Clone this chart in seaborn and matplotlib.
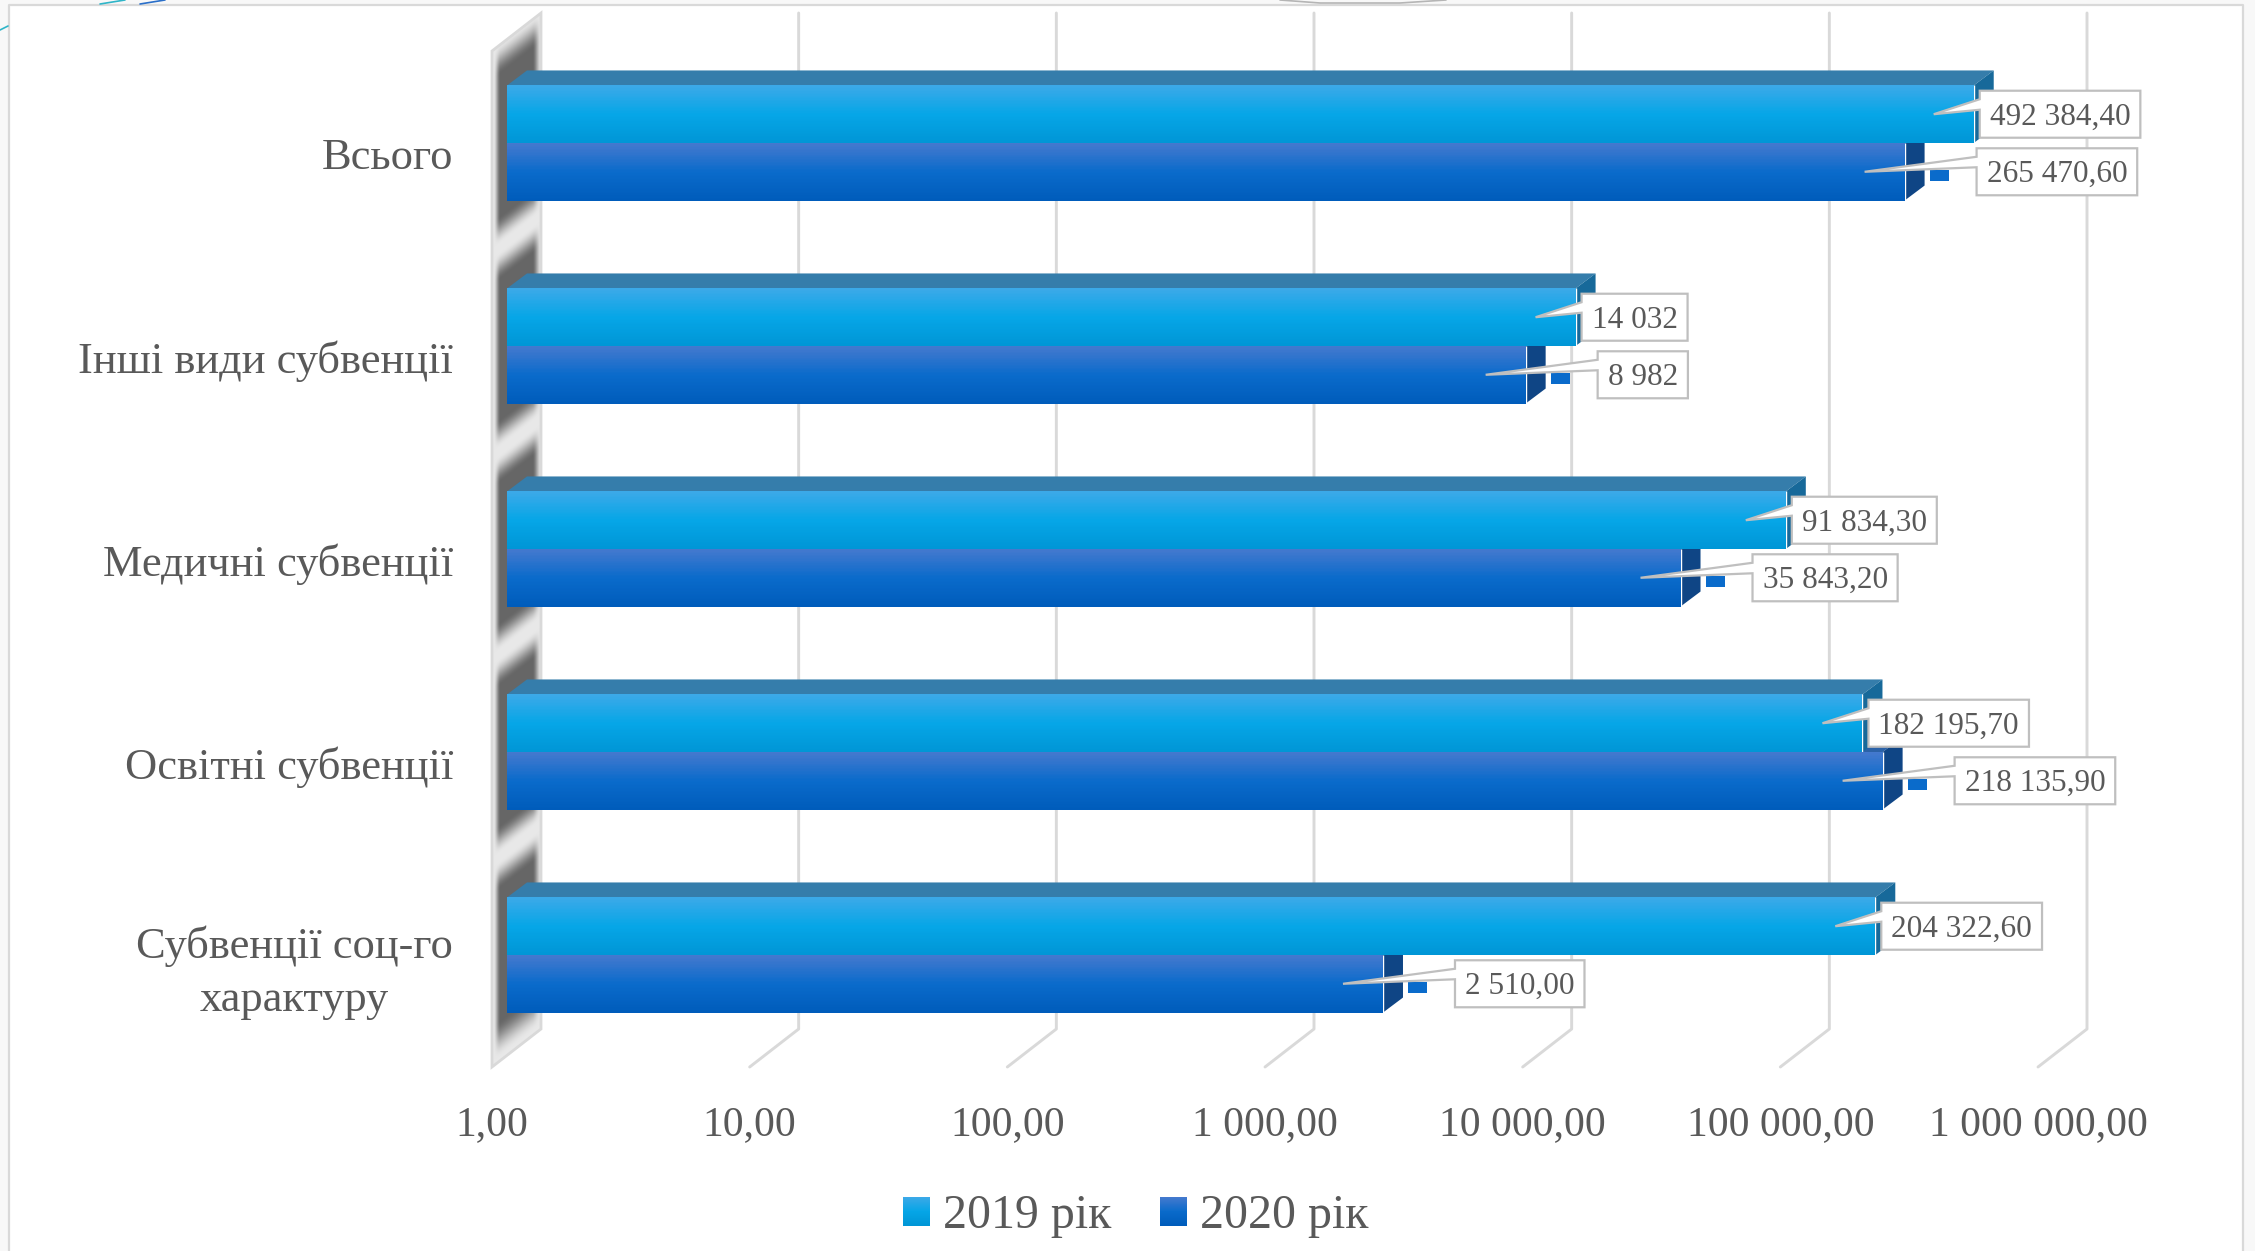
import numpy as np
import pandas as pd
import seaborn as sns
import matplotlib.pyplot as plt
from matplotlib.colors import LinearSegmentedColormap
from matplotlib.lines import Line2D
from matplotlib.patches import Polygon
from matplotlib.ticker import FuncFormatter
from matplotlib.transforms import IdentityTransform, ScaledTranslation

# Data
categories = ['Всього', 'Інші види субвенції', 'Медичні субвенції', 'Освітні субвенції',
              'Субвенції соц-го\nхарактуру']
values_2019 = [492384.40, 14032, 91834.30, 182195.70, 204322.60]
values_2020 = [265470.60, 8982, 35843.20, 218135.90, 2510.00]
labels_2019 = ['492 384,40', '14 032', '91 834,30', '182 195,70', '204 322,60']
labels_2020 = ['265 470,60', '8 982', '35 843,20', '218 135,90', '2 510,00']
years = ['2019 рік', '2020 рік']
xtick_values = [1, 10, 100, 1000, 10000, 100000, 1000000]

# Style
W, H = 2255, 1251
TEXT = '#595959'
GRID = '#d9d9d9'
BOX_EDGE = '#bfbfbf'
DX, DY = 20, 15          # depth of a bar
GRID_FRONT, GRID_BACK = -15, 34   # grid planes relative to the bar plane
FLOOR_FRONT, FLOOR_BACK = 1067, 1029
WALL_TOP = 13
grad_2019 = LinearSegmentedColormap.from_list('g19', ['#3BA9E8', '#06A6E7', '#0096D6'])
grad_2020 = LinearSegmentedColormap.from_list('g20', ['#4479CE', '#0A6BCB', '#005CBB'])

sns.set_style('white')
plt.rcParams['font.family'] = ['Liberation Serif', 'DejaVu Serif']

fig = plt.figure(figsize=(W / 100, H / 100), dpi=100, facecolor='white')
ax = fig.add_axes([507 / W, 1 - FLOOR_FRONT / H, 1546 / W, (FLOOR_FRONT - WALL_TOP) / H])
ax.patch.set_visible(False)

df = pd.DataFrame({
    'category': categories * 2,
    'value': values_2019 + values_2020,
    'year': [years[0]] * 5 + [years[1]] * 5,
})
sns.barplot(data=df, x='value', y='category', hue='year', orient='h', log_scale=True,
            width=0.567, gap=0, palette=['#06A6E7', '#0A6BCB'], ax=ax)

ax.set_xlim(1, 1e6)
ax.set_ylim((FLOOR_FRONT - 143) / 203, (WALL_TOP - 143) / 203)
ax.set_xlabel('')
ax.set_ylabel('')
sns.despine(ax=ax, left=True, bottom=True)

# Axis labels
ax.set_xticks(xtick_values)
ax.minorticks_off()
ax.xaxis.set_major_formatter(FuncFormatter(lambda v, pos: f'{v:,.2f}'.replace(',', ' ').replace('.', ',')))
ax.tick_params(axis='x', length=0, pad=28, labelsize=30, labelcolor=TEXT)
ax.tick_params(axis='y', length=0, pad=39, labelsize=32, labelcolor=TEXT)
x_shift = ScaledTranslation(GRID_FRONT / 100, 0, fig.dpi_scale_trans)
for lab in ax.get_xticklabels():
    lab.set_transform(lab.get_transform() + x_shift)
for lab in ax.get_yticklabels():
    # two-line label sits a little higher and has wider line spacing
    two_lines = '\n' in lab.get_text()
    y_shift = ScaledTranslation(0, -(7 if two_lines else 11) / 100, fig.dpi_scale_trans)
    lab.set_transform(lab.get_transform() + y_shift)
    lab.set_multialignment('center')
    if two_lines:
        lab.set_linespacing(1.4)

pix = IdentityTransform()


def down(y):
    return H - y


# Background: faint margin, shaded back wall
yy, xx = np.mgrid[0:H, 0:W]
bg = np.ones((H, W, 4))
outside = (xx < 8) | (xx > 2243) | (yy < 4)
bg[outside, :3] = 0.975

u = yy + (xx - 492) * 38 / 49
centers = [ax.transData.transform((1, i))[1] for i in range(len(categories))]
gaps = [down(c) + 110 for c in centers[:-1]]
smooth = lambda v, a, b: np.clip((v - a) / (b - a), 0, 1) ** 2 * (3 - 2 * np.clip((v - a) / (b - a), 0, 1))
dark = smooth(xx, 493, 500) * (1 - smooth(xx, 532, 541))
dark = dark * smooth(u, 48, 80) * (1 - smooth(u, 1025, 1062))
for g in gaps:
    dark = dark * smooth(np.abs(u - g), 4, 32)
wall = (xx >= 492) & (xx <= 541) & (u >= 51) & (u <= 1067)
shade = 0.91 - dark * (0.91 - 0.40)
bg[wall, 0] = shade[wall]
bg[wall, 1] = shade[wall]
bg[wall, 2] = shade[wall]
fig.figimage(bg, 0, 0, origin='upper', zorder=-5, resize=False)

# Wall outline and gridlines
wall_pts = [(492, down(51)), (541, down(WALL_TOP)), (541, down(FLOOR_BACK)), (492, down(FLOOR_FRONT))]
ax.add_patch(Polygon(wall_pts, closed=True, fill=False, ec=GRID, lw=2, transform=pix, clip_on=False, zorder=0.5))
for v in xtick_values[1:]:
    x_px = ax.transData.transform((v, 0))[0]
    ax.add_line(Line2D([x_px + GRID_FRONT, x_px + GRID_BACK, x_px + GRID_BACK],
                       [down(FLOOR_FRONT), down(FLOOR_BACK), down(WALL_TOP)],
                       color=GRID, lw=2.1, transform=pix, clip_on=False, zorder=0.5))

# Frame of the slide and its leftovers
ax.add_line(Line2D([9, 9, 2243, 2243], [0, down(5), down(5), 0], color=GRID, lw=1.6, transform=pix, clip_on=False, zorder=0.4))
for xs, ys, c in [([100, 125], [4, 0], '#2fb5c8'), ([140, 165], [4, 0], '#2a6fc9'), ([0, 8], [30, 26], '#2fb5c8'),
                  ([1280, 1320, 1400, 1446], [0, 3, 3, 0], '#b5b5b5')]:
    ax.add_line(Line2D(xs, [down(y) for y in ys], color=c, lw=1.2, transform=pix, clip_on=False, zorder=0.4))


def draw_bar(bar, cmap, top_col, side_col, z_back, z_front):
    # front face gradient over the seaborn bar, depth faces in pixels behind it
    left, right = bar.get_x(), bar.get_x() + bar.get_width()
    y0, y1 = bar.get_y(), bar.get_y() + bar.get_height()
    x0_px, y_top = ax.transData.transform((max(left, 1), y0))
    x1_px, y_bot = ax.transData.transform((right, y1))
    bar.set_zorder(z_front)
    ys = np.linspace(y0, y1, 41)
    grad = np.linspace(0, 1, 40)[:, None]
    ax.pcolormesh([max(left, 1), right], ys, grad, cmap=cmap, zorder=z_front + 0.1, shading='flat')
    top = [(x0_px, y_top), (x0_px + DX, y_top + DY), (x1_px + DX, y_top + DY), (x1_px, y_top)]
    side = [(x1_px, y_top), (x1_px + DX, y_top + DY), (x1_px + DX, y_bot + DY), (x1_px, y_bot)]
    ax.add_patch(Polygon(top, closed=True, fc=top_col, ec='none', transform=pix, clip_on=False, zorder=z_back))
    ax.add_patch(Polygon(side, closed=True, fc=side_col, ec='none', transform=pix, clip_on=False, zorder=z_back))
    return x1_px, (y_top + y_bot) / 2


renderer = fig.canvas.get_renderer()


def callout(end_px, cy, text, box_off, z):
    # data label: white box with a pointer into the bar
    t = ax.text(end_px + box_off + 10, cy - 3, text, transform=pix, ha='left', va='center', color=TEXT,
                fontsize=22.5, zorder=z + 1, clip_on=False)
    w = t.get_window_extent(renderer).width
    bx0, bx1 = end_px + box_off, end_px + box_off + w + 20
    by0, by1 = cy - 23.5, cy + 23.5
    pts = [(bx0, by1), (bx1, by1), (bx1, by0), (bx0, by0), (bx0, cy + 4.5),
           (end_px - 40, cy), (bx0, cy + 15)]
    ax.add_patch(Polygon(pts, closed=True, fc='white', ec=BOX_EDGE, lw=1.6, transform=pix,
                         clip_on=False, zorder=z, joinstyle='miter'))


bars_2019, bars_2020 = ax.containers[0], ax.containers[1]
for i in range(len(categories)):
    end_19, cy_19 = draw_bar(bars_2019[i], grad_2019, '#357DAB', '#17699A', 2, 3)
    end_20, cy_20 = draw_bar(bars_2020[i], grad_2020, '#2B62A8', '#0F4585', 1, 4)
    # small legend key next to the 2020 label
    key = [(end_20 + 25, cy_20 + 2), (end_20 + 44, cy_20 + 2), (end_20 + 44, cy_20 - 9), (end_20 + 25, cy_20 - 9)]
    ax.add_patch(Polygon(key, closed=True, fc='#0A6BCB', ec='none', transform=pix, clip_on=False, zorder=5))
    callout(end_19, cy_19, labels_2019[i], 6, 6)
    callout(end_20, cy_20, labels_2020[i], 72, 6)

# Legend
sns.move_legend(ax, loc='center', bbox_to_anchor=(1136 / W, 1 - 1216 / H), bbox_transform=fig.transFigure,
                ncol=2, frameon=False, title=None, fontsize=34.5, labelcolor=TEXT,
                handlelength=0.56, handleheight=0.56, handletextpad=0.27, columnspacing=1.02,
                borderpad=0, borderaxespad=0)
leg = ax.get_legend()
leg.set_zorder(10)
fig.canvas.draw()
for handle, cmap in zip(leg.legend_handles, [grad_2019, grad_2020]):
    box = handle.get_window_extent(renderer)
    rows = int(round(box.height))
    cols = int(round(box.width))
    key_img = np.repeat(cmap(np.linspace(0, 1, rows))[:, None, :3], cols, axis=1)
    fig.figimage(key_img, int(round(box.x0)), int(round(box.y0)), origin='upper', zorder=20, resize=False)

plt.savefig('out.png', dpi=100)
